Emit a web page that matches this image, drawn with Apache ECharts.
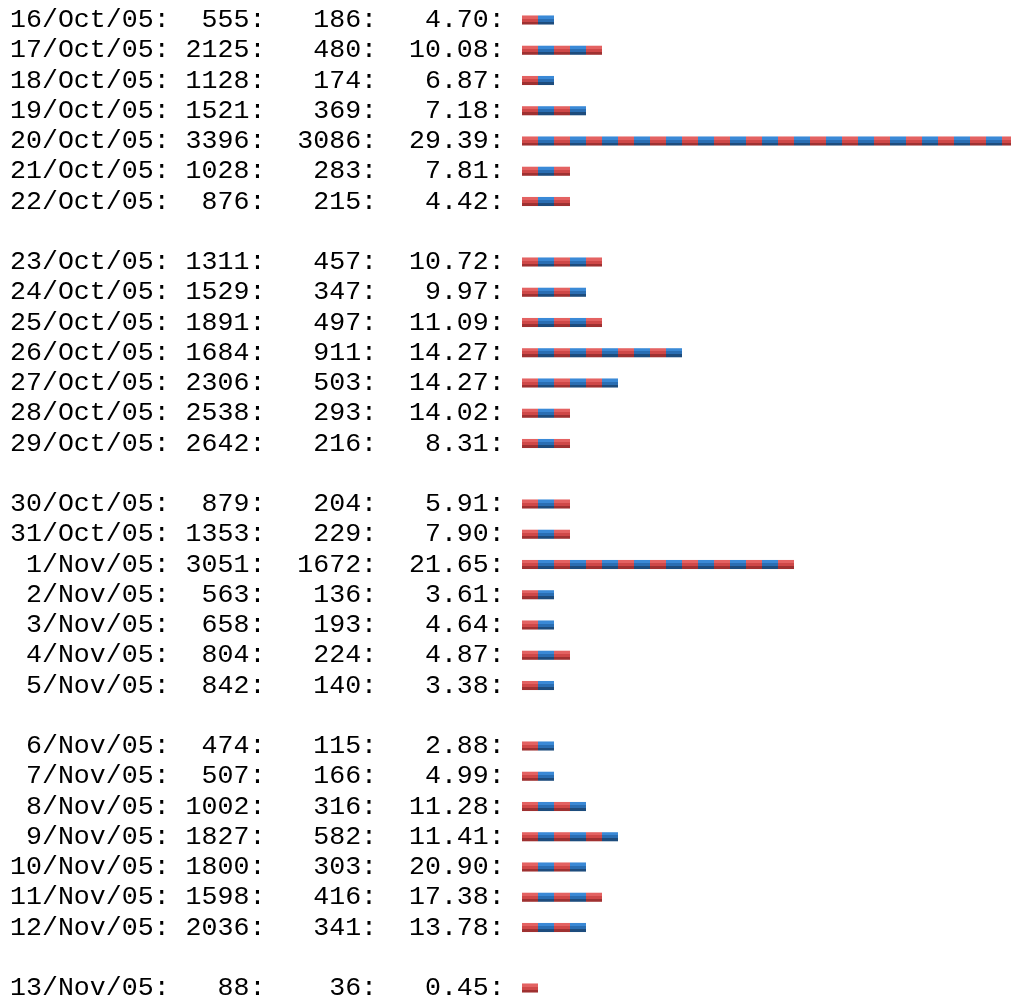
<!DOCTYPE html>
<html>
<head>
<meta charset="utf-8">
<script src="https://cdn.jsdelivr.net/npm/echarts@6/dist/echarts.min.js"></script>
<style>
  html, body { margin: 0; padding: 0; background: #ffffff; }
  #chart { width: 1011px; height: 998px; }
</style>
</head>
<body>
<div id="chart"></div>
<script>
// ---- data ----
const dates = [
  '16/Oct/05','17/Oct/05','18/Oct/05','19/Oct/05','20/Oct/05','21/Oct/05','22/Oct/05',
  '23/Oct/05','24/Oct/05','25/Oct/05','26/Oct/05','27/Oct/05','28/Oct/05','29/Oct/05',
  '30/Oct/05','31/Oct/05','1/Nov/05','2/Nov/05','3/Nov/05','4/Nov/05','5/Nov/05',
  '6/Nov/05','7/Nov/05','8/Nov/05','9/Nov/05','10/Nov/05','11/Nov/05','12/Nov/05',
  '13/Nov/05'
];
const pages = [
  555, 2125, 1128, 1521, 3396, 1028, 876,
  1311, 1529, 1891, 1684, 2306, 2538, 2642,
  879, 1353, 3051, 563, 658, 804, 842,
  474, 507, 1002, 1827, 1800, 1598, 2036,
  88
];
const hits = [
  186, 480, 174, 369, 3086, 283, 215,
  457, 347, 497, 911, 503, 293, 216,
  204, 229, 1672, 136, 193, 224, 140,
  115, 166, 316, 582, 303, 416, 341,
  36
];
const percents = [
  '4.70', '10.08', '6.87', '7.18', '29.39', '7.81', '4.42',
  '10.72', '9.97', '11.09', '14.27', '14.27', '14.02', '8.31',
  '5.91', '7.90', '21.65', '3.61', '4.64', '4.87', '3.38',
  '2.88', '4.99', '11.28', '11.41', '20.90', '17.38', '13.78',
  '0.45'
];
// bar length in blocks
const barBlocks = [
  2, 5, 2, 4, 31, 3, 3,
  5, 4, 5, 10, 6, 3, 3,
  3, 3, 17, 2, 2, 3, 2,
  2, 2, 4, 6, 4, 5, 4,
  1
];
const daysPerWeek = 7;

// ---- build rows (blank line between weeks) ----
function pad(s, n) { s = String(s); while (s.length < n) s = ' ' + s; return s; }
const rowKeys = [];
const rowTexts = [];
const barData = [];
dates.forEach(function (d, i) {
  if (i > 0 && i % daysPerWeek === 0) {
    rowKeys.push('gap' + i);
    rowTexts.push('');
  }
  rowKeys.push(d);
  rowTexts.push(pad(d, 9) + ': ' + pad(pages[i], 4) + ':  ' + pad(hits[i], 4) + ':  ' + pad(percents[i], 5) + ':');
  barData.push([barBlocks[i], rowKeys.length - 1]);
});

function bandGradient(c1, c2, c3) {
  return new echarts.graphic.LinearGradient(0, 0, 0, 1, [
    { offset: 0, color: c1 }, { offset: 0.34, color: c1 },
    { offset: 0.34, color: c2 }, { offset: 0.67, color: c2 },
    { offset: 0.67, color: c3 }, { offset: 1, color: c3 }
  ]);
}
const redFill = bandGradient('#e36262', '#cf4848', '#9f3131');
const blueFill = bandGradient('#3a89d6', '#2a6eb3', '#1d4c7d');

const chart = echarts.init(document.getElementById('chart'), null, { renderer: 'canvas' });
chart.setOption({
  animation: false,
  backgroundColor: '#ffffff',
  grid: { left: 522, top: 4.875, width: 512, height: 998.25, outerBoundsMode: 'none', containLabel: false },
  xAxis: { type: 'value', min: 0, max: 32, show: false },
  yAxis: {
    type: 'category',
    inverse: true,
    data: rowKeys,
    axisLine: { show: false },
    axisTick: { show: false },
    splitLine: { show: false },
    axisLabel: {
      interval: 0,
      hideOverlap: false,
      align: 'left',
      margin: 512,
      color: '#000000',
      fontFamily: 'Liberation Mono',
      fontSize: 26.6,
      formatter: function (v, idx) { return rowTexts[idx]; }
    }
  },
  series: [{
    type: 'custom',
    data: barData,
    encode: { x: 0, y: 1 },
    clip: false,
    renderItem: function (params, api) {
      const n = api.value(0);
      const row = api.value(1);
      const p0 = api.coord([0, row]);
      const p1 = api.coord([1, row]);
      const bw = p1[0] - p0[0];
      const h = api.size([0, 1])[1] * 0.3;
      const children = [];
      for (let k = 0; k < n; k++) {
        children.push({
          type: 'rect',
          shape: { x: p0[0] + k * bw, y: p0[1] - h / 2, width: bw, height: h },
          style: { fill: k % 2 === 0 ? redFill : blueFill }
        });
      }
      return { type: 'group', children: children };
    }
  }]
});
</script>
</body>
</html>
